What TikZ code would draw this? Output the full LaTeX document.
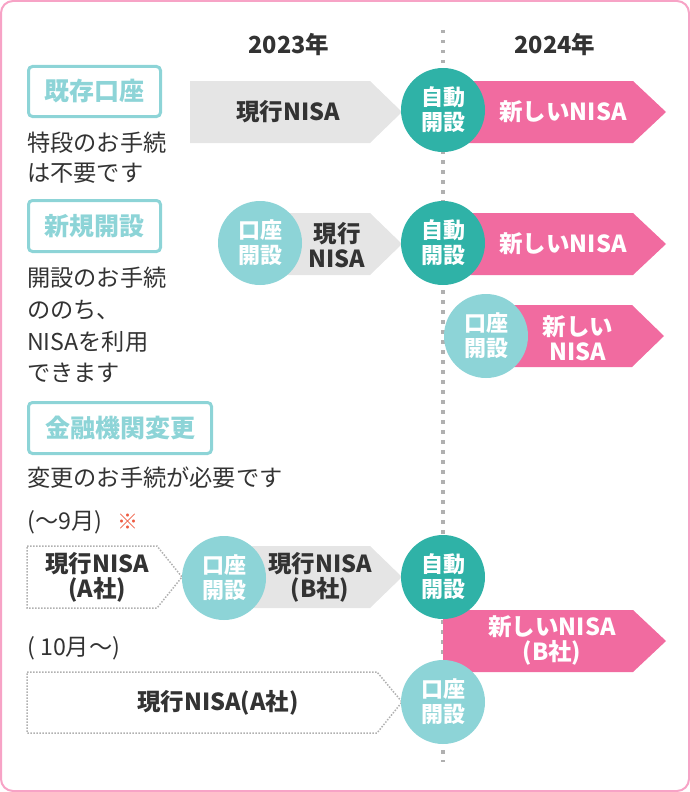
\documentclass[tikz,border=0pt]{standalone}
\usepackage{fontspec}
\setmainfont{Noto Sans CJK JP}
\definecolor{pinkb}{HTML}{F7A3C6}
\definecolor{grayfill}{HTML}{E5E5E5}
\definecolor{dteal}{HTML}{2FB2A7}
\definecolor{lteal}{HTML}{8DD4D7}
\definecolor{pinkf}{HTML}{F16BA0}
\definecolor{txt}{HTML}{333333}
\definecolor{dotg}{HTML}{B0B0B0}
\definecolor{kome}{HTML}{EE5A40}
\tikzset{
  cat/.style={draw=lteal, line width=3pt, rounded corners=4pt, text=lteal, inner sep=0pt,
    font=\fontsize{25}{28}\selectfont\bfseries},
  desc/.style={anchor=west, inner sep=0pt, text=txt, font=\fontsize{23.2}{30}\selectfont},
  yr/.style={inner sep=0pt, text=txt, font=\fontsize{23.5}{26}\selectfont\bfseries},
  circ/.style={circle, minimum size=84pt, inner sep=0pt, text=white, align=center,
    font=\fontsize{22}{25}\selectfont\bfseries},
  dcirc/.style={circ, fill=dteal},
  lcirc/.style={circ, fill=lteal},
  arrtxt/.style={inner sep=0pt, align=center, font=\fontsize{23.5}{25}\selectfont\bfseries},
  graytxt/.style={arrtxt, text=txt},
  pinktxt/.style={arrtxt, text=white},
  grayarr/.style={fill=grayfill},
  pinkarr/.style={fill=pinkf},
  dotarr/.style={draw=dotg, line width=1.5pt, dash pattern=on 1.5pt off 1.5pt},
  vline/.style={draw=dotg, line width=3.5pt, dash pattern=on 3.5pt off 6.5pt}
}
\begin{document}
\begin{tikzpicture}[x=1pt,y=-1pt]
\useasboundingbox (0,0) rectangle (690,792);
\draw[pinkb, line width=2pt, rounded corners=12pt] (1,1) rectangle (689,791);

% timeline divider
\coordinate (vt) at (443,30);
\coordinate (vb) at (443,762);
\draw[vline] (vt) -- (vb);

% years
\node[yr] (y23) at (289,45) {2023年};
\node[yr] (y24) at (555,45) {2024年};

% ---------- row 1 ----------
\node[cat, minimum width=132pt, minimum height=50pt] (c1) at (94.5,91.5) {既存口座};
\node[desc] (d1a) at (27,143) {特段のお手続};
\node[desc] (d1b) at (27,173) {は不要です};

\fill[grayarr] (190,81) -- (370,81) -- (402,112) -- (370,143) -- (190,143) -- cycle;
\node[graytxt] (g1) at (288,112) {現行NISA};
\fill[pinkarr] (443,81) -- (633,81) -- (666,112) -- (633,143) -- (443,143) -- cycle;
\node[pinktxt] (p1) at (563,112) {新しいNISA};
\node[dcirc] (a1) at (443,110) {自動\\開設};

% ---------- row 2 ----------
\node[cat, minimum width=132pt, minimum height=51pt] (c2) at (94.5,226) {新規開設};
\node[desc] (d2a) at (27,278) {開設のお手続};
\node[desc] (d2b) at (27,310) {ののち、};
\node[desc] (d2c) at (27,342) {NISAを利用};
\node[desc] (d2d) at (27,373) {できます};

\fill[grayarr] (260,213) -- (370,213) -- (402,244) -- (370,275) -- (260,275) -- cycle;
\node[graytxt] (g2) at (337,245) {現行\\NISA};
\node[lcirc] (o2) at (260,243) {口座\\開設};
\fill[pinkarr] (443,213) -- (633,213) -- (666,244) -- (633,275) -- (443,275) -- cycle;
\node[pinktxt] (p2) at (563,244) {新しいNISA};
\node[dcirc] (a2) at (443,243) {自動\\開設};

\fill[pinkarr] (486,305) -- (632,305) -- (664,336) -- (632,367) -- (486,367) -- cycle;
\node[pinktxt] (p2b) at (578,338) {新しい\\NISA};
\node[lcirc] (o2b) at (486,336) {口座\\開設};

% ---------- row 3 ----------
\node[cat, minimum width=183pt, minimum height=51pt] (c3) at (120,428) {金融機関変更};
\node[desc] (d3) at (27,478) {変更のお手続が必要です};
\node[desc] (m1) at (27,522) {(〜9月)};
\node[inner sep=0pt, text=kome, font=\fontsize{21}{25}\selectfont] (km) at (128,522) {※};

\draw[dotarr] (27,546) -- (157,546) -- (182,577) -- (157,608) -- (27,608) -- cycle;
\node[graytxt] (g3a) at (97,577) {現行NISA\\(A社)};
\fill[grayarr] (224,546) -- (370,546) -- (402,577) -- (370,608) -- (224,608) -- cycle;
\node[graytxt] (g3b) at (320,577) {現行NISA\\(B社)};
\node[lcirc] (o3) at (224,578) {口座\\開設};

\node[desc] (m2) at (27,648) {( 10月〜)};
\fill[pinkarr] (443,610) -- (633,610) -- (666,641) -- (633,672) -- (443,672) -- cycle;
\node[pinktxt] (p3) at (552,640) {新しいNISA\\(B社)};
\node[dcirc] (a3) at (443,577) {自動\\開設};

\draw[dotarr] (27,672) -- (377,672) -- (402,702) -- (377,733) -- (27,733) -- cycle;
\node[graytxt] (g3c) at (218,703) {現行NISA(A社)};
\node[lcirc] (o3b) at (443,702) {口座\\開設};
\end{tikzpicture}
\end{document}
